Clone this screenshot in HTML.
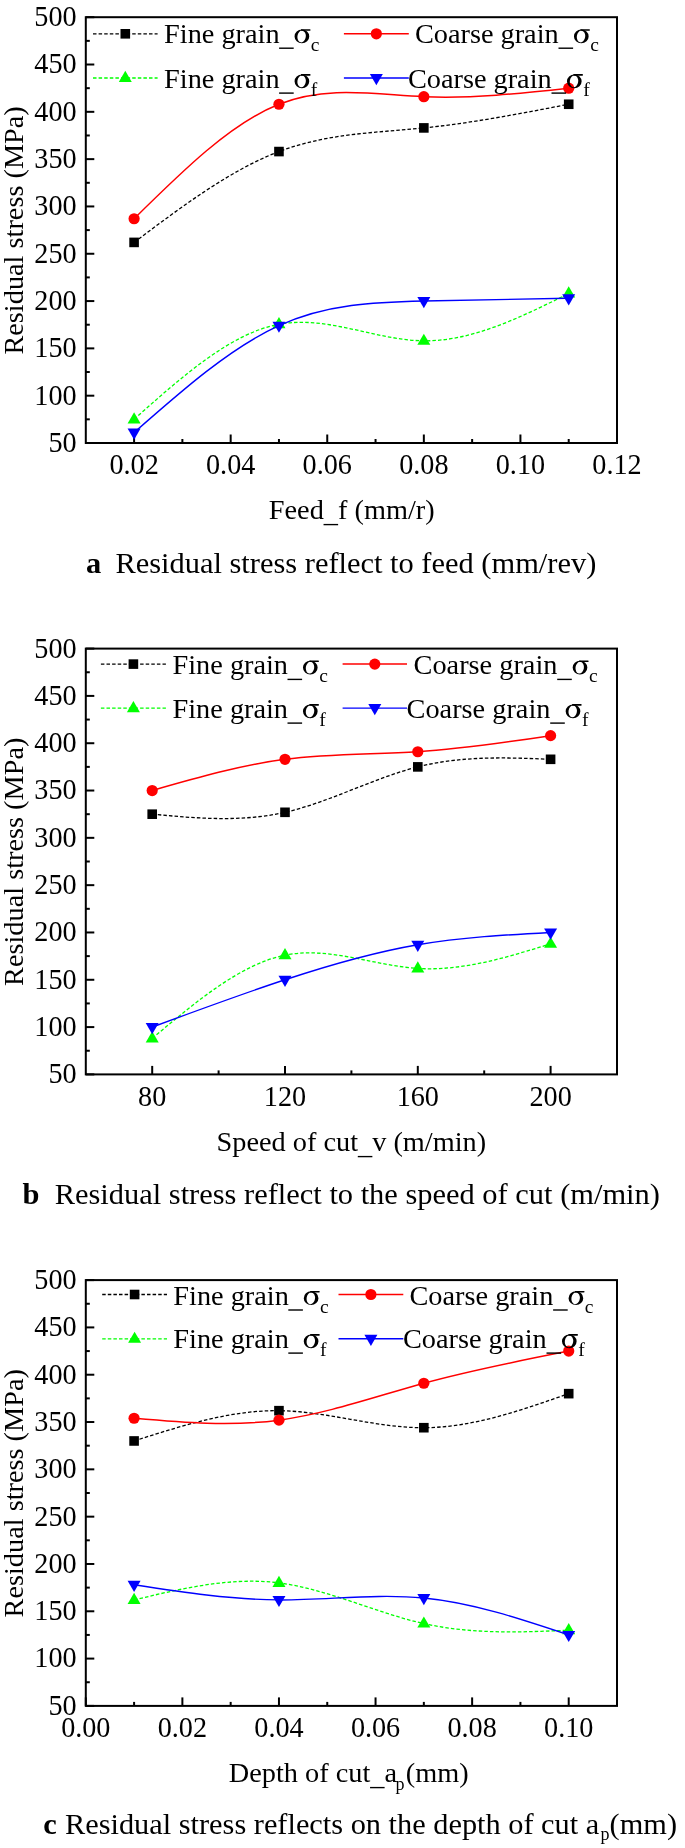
<!DOCTYPE html>
<html><head><meta charset="utf-8"><style>
html,body{margin:0;padding:0;background:#fff;}
svg{display:block;will-change:transform;}
text{font-family:"Liberation Serif", serif;fill:#000;}
</style></head><body>
<svg width="685" height="1848" viewBox="0 0 685 1848">
<rect width="685" height="1848" fill="#fff"/>
<rect x="85.8" y="17.2" width="531.2" height="425.8" fill="none" stroke="#000" stroke-width="2"/>
<line x1="85.8" y1="443.00" x2="94.3" y2="443.00" stroke="#000" stroke-width="2"/>
<text transform="translate(76.60,451.90) scale(1,1.06)" text-anchor="end" font-size="28.2">50</text>
<line x1="85.8" y1="419.34" x2="89.8" y2="419.34" stroke="#000" stroke-width="2"/>
<line x1="85.8" y1="395.69" x2="94.3" y2="395.69" stroke="#000" stroke-width="2"/>
<text transform="translate(76.60,404.59) scale(1,1.06)" text-anchor="end" font-size="28.2">100</text>
<line x1="85.8" y1="372.03" x2="89.8" y2="372.03" stroke="#000" stroke-width="2"/>
<line x1="85.8" y1="348.38" x2="94.3" y2="348.38" stroke="#000" stroke-width="2"/>
<text transform="translate(76.60,357.28) scale(1,1.06)" text-anchor="end" font-size="28.2">150</text>
<line x1="85.8" y1="324.72" x2="89.8" y2="324.72" stroke="#000" stroke-width="2"/>
<line x1="85.8" y1="301.07" x2="94.3" y2="301.07" stroke="#000" stroke-width="2"/>
<text transform="translate(76.60,309.97) scale(1,1.06)" text-anchor="end" font-size="28.2">200</text>
<line x1="85.8" y1="277.41" x2="89.8" y2="277.41" stroke="#000" stroke-width="2"/>
<line x1="85.8" y1="253.76" x2="94.3" y2="253.76" stroke="#000" stroke-width="2"/>
<text transform="translate(76.60,262.66) scale(1,1.06)" text-anchor="end" font-size="28.2">250</text>
<line x1="85.8" y1="230.10" x2="89.8" y2="230.10" stroke="#000" stroke-width="2"/>
<line x1="85.8" y1="206.44" x2="94.3" y2="206.44" stroke="#000" stroke-width="2"/>
<text transform="translate(76.60,215.34) scale(1,1.06)" text-anchor="end" font-size="28.2">300</text>
<line x1="85.8" y1="182.79" x2="89.8" y2="182.79" stroke="#000" stroke-width="2"/>
<line x1="85.8" y1="159.13" x2="94.3" y2="159.13" stroke="#000" stroke-width="2"/>
<text transform="translate(76.60,168.03) scale(1,1.06)" text-anchor="end" font-size="28.2">350</text>
<line x1="85.8" y1="135.48" x2="89.8" y2="135.48" stroke="#000" stroke-width="2"/>
<line x1="85.8" y1="111.82" x2="94.3" y2="111.82" stroke="#000" stroke-width="2"/>
<text transform="translate(76.60,120.72) scale(1,1.06)" text-anchor="end" font-size="28.2">400</text>
<line x1="85.8" y1="88.17" x2="89.8" y2="88.17" stroke="#000" stroke-width="2"/>
<line x1="85.8" y1="64.51" x2="94.3" y2="64.51" stroke="#000" stroke-width="2"/>
<text transform="translate(76.60,73.41) scale(1,1.06)" text-anchor="end" font-size="28.2">450</text>
<line x1="85.8" y1="40.86" x2="89.8" y2="40.86" stroke="#000" stroke-width="2"/>
<line x1="85.8" y1="17.20" x2="94.3" y2="17.20" stroke="#000" stroke-width="2"/>
<text transform="translate(76.60,26.10) scale(1,1.06)" text-anchor="end" font-size="28.2">500</text>
<line x1="134.09" y1="443.0" x2="134.09" y2="434.5" stroke="#000" stroke-width="2"/>
<line x1="230.67" y1="443.0" x2="230.67" y2="434.5" stroke="#000" stroke-width="2"/>
<line x1="327.25" y1="443.0" x2="327.25" y2="434.5" stroke="#000" stroke-width="2"/>
<line x1="423.84" y1="443.0" x2="423.84" y2="434.5" stroke="#000" stroke-width="2"/>
<line x1="520.42" y1="443.0" x2="520.42" y2="434.5" stroke="#000" stroke-width="2"/>
<line x1="617.00" y1="443.0" x2="617.00" y2="434.5" stroke="#000" stroke-width="2"/>
<line x1="182.38" y1="443.0" x2="182.38" y2="439.0" stroke="#000" stroke-width="2"/>
<line x1="278.96" y1="443.0" x2="278.96" y2="439.0" stroke="#000" stroke-width="2"/>
<line x1="375.55" y1="443.0" x2="375.55" y2="439.0" stroke="#000" stroke-width="2"/>
<line x1="472.13" y1="443.0" x2="472.13" y2="439.0" stroke="#000" stroke-width="2"/>
<line x1="568.71" y1="443.0" x2="568.71" y2="439.0" stroke="#000" stroke-width="2"/>
<text transform="translate(134.09,474.40) scale(1,1.06)" text-anchor="middle" font-size="28.2">0.02</text>
<text transform="translate(230.67,474.40) scale(1,1.06)" text-anchor="middle" font-size="28.2">0.04</text>
<text transform="translate(327.25,474.40) scale(1,1.06)" text-anchor="middle" font-size="28.2">0.06</text>
<text transform="translate(423.84,474.40) scale(1,1.06)" text-anchor="middle" font-size="28.2">0.08</text>
<text transform="translate(520.42,474.40) scale(1,1.06)" text-anchor="middle" font-size="28.2">0.10</text>
<text transform="translate(617.00,474.40) scale(1,1.06)" text-anchor="middle" font-size="28.2">0.12</text>
<text transform="translate(23.4,230.40) rotate(-90)" text-anchor="middle" font-size="28.3">Residual stress (MPa)</text>
<text x="268.8" y="519.00" font-size="28.3" xml:space="preserve">Feed<tspan dy="3">_</tspan><tspan dy="-3">f (mm/r)</tspan></text>
<text x="86.0" y="573.10" font-size="30.45" font-weight="bold">a</text><text x="115.4" y="573.10" font-size="30.45">Residual stress reflect to feed (mm/rev)</text>
<path d="M134.09,242.40 C182.38,206.15 230.67,169.90 278.96,151.56 C327.25,133.23 375.55,132.81 423.84,127.91 C472.13,123.01 520.42,113.63 568.71,104.25" fill="none" stroke="#000000" stroke-width="1.3" stroke-dasharray="3.5 2.1"/><rect x="129.29" y="237.60" width="9.6" height="9.6" fill="#000000"/><rect x="274.16" y="146.76" width="9.6" height="9.6" fill="#000000"/><rect x="419.04" y="123.11" width="9.6" height="9.6" fill="#000000"/><rect x="563.91" y="99.45" width="9.6" height="9.6" fill="#000000"/>
<path d="M134.09,218.75 C182.38,171.06 230.67,123.37 278.96,104.25 C327.25,85.14 375.55,94.60 423.84,96.68 C472.13,98.76 520.42,93.47 568.71,88.17" fill="none" stroke="#ff0000" stroke-width="1.5"/><circle cx="134.09" cy="218.75" r="5.6" fill="#ff0000"/><circle cx="278.96" cy="104.25" r="5.6" fill="#ff0000"/><circle cx="423.84" cy="96.68" r="5.6" fill="#ff0000"/><circle cx="568.71" cy="88.17" r="5.6" fill="#ff0000"/>
<path d="M134.09,419.34 C182.38,376.30 230.67,333.26 278.96,324.25 C327.25,315.24 375.55,340.26 423.84,340.81 C472.13,341.35 520.42,317.43 568.71,293.50" fill="none" stroke="#00ff00" stroke-width="1.3" stroke-dasharray="3.5 2.1"/><path d="M127.59,423.38 L140.59,423.38 L134.09,412.18 Z" fill="#00ff00"/><path d="M272.46,328.28 L285.46,328.28 L278.96,317.08 Z" fill="#00ff00"/><path d="M417.34,344.84 L430.34,344.84 L423.84,333.64 Z" fill="#00ff00"/><path d="M562.21,297.53 L575.21,297.53 L568.71,286.33 Z" fill="#00ff00"/>
<path d="M134.09,432.59 C182.38,390.12 230.67,347.64 278.96,325.67 C327.25,303.70 375.55,302.22 423.84,301.07 C472.13,299.91 520.42,299.07 568.71,298.23" fill="none" stroke="#0000ff" stroke-width="1.4"/><path d="M127.59,428.56 L140.59,428.56 L134.09,439.76 Z" fill="#0000ff"/><path d="M272.46,321.64 L285.46,321.64 L278.96,332.84 Z" fill="#0000ff"/><path d="M417.34,297.03 L430.34,297.03 L423.84,308.23 Z" fill="#0000ff"/><path d="M562.21,294.20 L575.21,294.20 L568.71,305.40 Z" fill="#0000ff"/>
<line x1="93.0" y1="33.80" x2="157.6" y2="33.80" stroke="#000000" stroke-width="1.3" stroke-dasharray="3.5 2.1"/>
<rect x="120.50" y="29.00" width="9.6" height="9.6" fill="#000000"/>
<text x="164.10" y="42.80" font-size="28.3">Fine grain</text>
<rect x="279.10" y="47.50" width="14.6" height="1.4" fill="#000"/>
<path d="M294.55,36.40 a7.35,6.9 0 1,0 14.7,0 a7.35,6.9 0 1,0 -14.7,0 Z M297.44,35.92 A4.2,5.9 8 1,0 305.76,37.08 A4.2,5.9 8 1,0 297.44,35.92 Z" fill="#000" fill-rule="evenodd"/><path d="M301.00,29.20 H309.80 a0.8,0.8 0 0 1 0.8,0.8 a0.8,0.8 0 0 1 -0.8,0.8 H301.00 Z" fill="#000"/>
<text x="310.80" y="50.70" font-size="19.5">c</text>
<line x1="343.9" y1="33.80" x2="408.8" y2="33.80" stroke="#ff0000" stroke-width="1.5"/>
<circle cx="376.35" cy="33.80" r="5.6" fill="#ff0000"/>
<text x="414.90" y="42.80" font-size="28.3">Coarse grain</text>
<rect x="558.50" y="47.50" width="14.6" height="1.4" fill="#000"/>
<path d="M573.95,36.40 a7.35,6.9 0 1,0 14.7,0 a7.35,6.9 0 1,0 -14.7,0 Z M576.84,35.92 A4.2,5.9 8 1,0 585.16,37.08 A4.2,5.9 8 1,0 576.84,35.92 Z" fill="#000" fill-rule="evenodd"/><path d="M580.40,29.20 H589.20 a0.8,0.8 0 0 1 0.8,0.8 a0.8,0.8 0 0 1 -0.8,0.8 H580.40 Z" fill="#000"/>
<text x="590.20" y="50.70" font-size="19.5">c</text>
<line x1="93.0" y1="78.00" x2="157.6" y2="78.00" stroke="#00ff00" stroke-width="1.3" stroke-dasharray="3.5 2.1"/>
<path d="M118.80,82.03 L131.80,82.03 L125.30,70.83 Z" fill="#00ff00"/>
<text x="164.10" y="87.70" font-size="28.3">Fine grain</text>
<rect x="279.10" y="92.40" width="14.6" height="1.4" fill="#000"/>
<path d="M294.55,81.30 a7.35,6.9 0 1,0 14.7,0 a7.35,6.9 0 1,0 -14.7,0 Z M297.44,80.82 A4.2,5.9 8 1,0 305.76,81.98 A4.2,5.9 8 1,0 297.44,80.82 Z" fill="#000" fill-rule="evenodd"/><path d="M301.00,74.10 H309.80 a0.8,0.8 0 0 1 0.8,0.8 a0.8,0.8 0 0 1 -0.8,0.8 H301.00 Z" fill="#000"/>
<text x="310.80" y="95.60" font-size="19.5">f</text>
<line x1="343.9" y1="78.00" x2="408.8" y2="78.00" stroke="#0000ff" stroke-width="1.4"/>
<path d="M369.85,73.97 L382.85,73.97 L376.35,85.17 Z" fill="#0000ff"/>
<text x="407.90" y="87.70" font-size="28.3">Coarse grain</text>
<rect x="551.50" y="92.40" width="14.6" height="1.4" fill="#000"/>
<path d="M566.95,81.30 a7.35,6.9 0 1,0 14.7,0 a7.35,6.9 0 1,0 -14.7,0 Z M569.84,80.82 A4.2,5.9 8 1,0 578.16,81.98 A4.2,5.9 8 1,0 569.84,80.82 Z" fill="#000" fill-rule="evenodd"/><path d="M573.40,74.10 H582.20 a0.8,0.8 0 0 1 0.8,0.8 a0.8,0.8 0 0 1 -0.8,0.8 H573.40 Z" fill="#000"/>
<text x="583.20" y="95.60" font-size="19.5">f</text>
<rect x="85.8" y="648.6" width="531.2" height="425.8" fill="none" stroke="#000" stroke-width="2"/>
<line x1="85.8" y1="1074.40" x2="94.3" y2="1074.40" stroke="#000" stroke-width="2"/>
<text transform="translate(76.60,1083.30) scale(1,1.06)" text-anchor="end" font-size="28.2">50</text>
<line x1="85.8" y1="1050.74" x2="89.8" y2="1050.74" stroke="#000" stroke-width="2"/>
<line x1="85.8" y1="1027.09" x2="94.3" y2="1027.09" stroke="#000" stroke-width="2"/>
<text transform="translate(76.60,1035.99) scale(1,1.06)" text-anchor="end" font-size="28.2">100</text>
<line x1="85.8" y1="1003.43" x2="89.8" y2="1003.43" stroke="#000" stroke-width="2"/>
<line x1="85.8" y1="979.78" x2="94.3" y2="979.78" stroke="#000" stroke-width="2"/>
<text transform="translate(76.60,988.68) scale(1,1.06)" text-anchor="end" font-size="28.2">150</text>
<line x1="85.8" y1="956.12" x2="89.8" y2="956.12" stroke="#000" stroke-width="2"/>
<line x1="85.8" y1="932.47" x2="94.3" y2="932.47" stroke="#000" stroke-width="2"/>
<text transform="translate(76.60,941.37) scale(1,1.06)" text-anchor="end" font-size="28.2">200</text>
<line x1="85.8" y1="908.81" x2="89.8" y2="908.81" stroke="#000" stroke-width="2"/>
<line x1="85.8" y1="885.16" x2="94.3" y2="885.16" stroke="#000" stroke-width="2"/>
<text transform="translate(76.60,894.06) scale(1,1.06)" text-anchor="end" font-size="28.2">250</text>
<line x1="85.8" y1="861.50" x2="89.8" y2="861.50" stroke="#000" stroke-width="2"/>
<line x1="85.8" y1="837.84" x2="94.3" y2="837.84" stroke="#000" stroke-width="2"/>
<text transform="translate(76.60,846.74) scale(1,1.06)" text-anchor="end" font-size="28.2">300</text>
<line x1="85.8" y1="814.19" x2="89.8" y2="814.19" stroke="#000" stroke-width="2"/>
<line x1="85.8" y1="790.53" x2="94.3" y2="790.53" stroke="#000" stroke-width="2"/>
<text transform="translate(76.60,799.43) scale(1,1.06)" text-anchor="end" font-size="28.2">350</text>
<line x1="85.8" y1="766.88" x2="89.8" y2="766.88" stroke="#000" stroke-width="2"/>
<line x1="85.8" y1="743.22" x2="94.3" y2="743.22" stroke="#000" stroke-width="2"/>
<text transform="translate(76.60,752.12) scale(1,1.06)" text-anchor="end" font-size="28.2">400</text>
<line x1="85.8" y1="719.57" x2="89.8" y2="719.57" stroke="#000" stroke-width="2"/>
<line x1="85.8" y1="695.91" x2="94.3" y2="695.91" stroke="#000" stroke-width="2"/>
<text transform="translate(76.60,704.81) scale(1,1.06)" text-anchor="end" font-size="28.2">450</text>
<line x1="85.8" y1="672.26" x2="89.8" y2="672.26" stroke="#000" stroke-width="2"/>
<line x1="85.8" y1="648.60" x2="94.3" y2="648.60" stroke="#000" stroke-width="2"/>
<text transform="translate(76.60,657.50) scale(1,1.06)" text-anchor="end" font-size="28.2">500</text>
<line x1="152.20" y1="1074.4" x2="152.20" y2="1065.9" stroke="#000" stroke-width="2"/>
<line x1="285.00" y1="1074.4" x2="285.00" y2="1065.9" stroke="#000" stroke-width="2"/>
<line x1="417.80" y1="1074.4" x2="417.80" y2="1065.9" stroke="#000" stroke-width="2"/>
<line x1="550.60" y1="1074.4" x2="550.60" y2="1065.9" stroke="#000" stroke-width="2"/>
<line x1="218.60" y1="1074.4" x2="218.60" y2="1070.4" stroke="#000" stroke-width="2"/>
<line x1="351.40" y1="1074.4" x2="351.40" y2="1070.4" stroke="#000" stroke-width="2"/>
<line x1="484.20" y1="1074.4" x2="484.20" y2="1070.4" stroke="#000" stroke-width="2"/>
<line x1="617.00" y1="1074.4" x2="617.00" y2="1070.4" stroke="#000" stroke-width="2"/>
<text transform="translate(152.20,1105.80) scale(1,1.06)" text-anchor="middle" font-size="28.2">80</text>
<text transform="translate(285.00,1105.80) scale(1,1.06)" text-anchor="middle" font-size="28.2">120</text>
<text transform="translate(417.80,1105.80) scale(1,1.06)" text-anchor="middle" font-size="28.2">160</text>
<text transform="translate(550.60,1105.80) scale(1,1.06)" text-anchor="middle" font-size="28.2">200</text>
<text transform="translate(23.4,861.80) rotate(-90)" text-anchor="middle" font-size="28.3">Residual stress (MPa)</text>
<text x="216.6" y="1151.40" font-size="28.3" xml:space="preserve">Speed of cut<tspan dy="3">_</tspan><tspan dy="-3">v (m/min)</tspan></text>
<text x="22.6" y="1203.80" font-size="30.45" font-weight="bold">b</text><text x="54.7" y="1203.80" font-size="30.45">Residual stress reflect to the speed of cut (m/min)</text>
<path d="M152.20,814.19 C196.47,818.27 240.73,822.35 285.00,812.30 C329.27,802.25 373.53,778.06 417.80,766.88 C462.07,755.69 506.33,757.50 550.60,759.31" fill="none" stroke="#000000" stroke-width="1.3" stroke-dasharray="3.5 2.1"/><rect x="147.40" y="809.39" width="9.6" height="9.6" fill="#000000"/><rect x="280.20" y="807.50" width="9.6" height="9.6" fill="#000000"/><rect x="413.00" y="762.08" width="9.6" height="9.6" fill="#000000"/><rect x="545.80" y="754.51" width="9.6" height="9.6" fill="#000000"/>
<path d="M152.20,790.53 C196.47,777.83 240.73,765.13 285.00,759.31 C329.27,753.48 373.53,754.53 417.80,751.74 C462.07,748.94 506.33,742.30 550.60,735.65" fill="none" stroke="#ff0000" stroke-width="1.5"/><circle cx="152.20" cy="790.53" r="5.6" fill="#ff0000"/><circle cx="285.00" cy="759.31" r="5.6" fill="#ff0000"/><circle cx="417.80" cy="751.74" r="5.6" fill="#ff0000"/><circle cx="550.60" cy="735.65" r="5.6" fill="#ff0000"/>
<path d="M152.20,1038.44 C196.47,1001.27 240.73,964.09 285.00,955.18 C329.27,946.26 373.53,965.61 417.80,968.42 C462.07,971.24 506.33,957.53 550.60,943.82" fill="none" stroke="#00ff00" stroke-width="1.3" stroke-dasharray="3.5 2.1"/><path d="M145.70,1042.48 L158.70,1042.48 L152.20,1031.28 Z" fill="#00ff00"/><path d="M278.50,959.21 L291.50,959.21 L285.00,948.01 Z" fill="#00ff00"/><path d="M411.30,972.46 L424.30,972.46 L417.80,961.26 Z" fill="#00ff00"/><path d="M544.10,947.85 L557.10,947.85 L550.60,936.65 Z" fill="#00ff00"/>
<path d="M152.20,1027.09 C196.47,1010.73 240.73,994.37 285.00,979.78 C329.27,965.18 373.53,952.36 417.80,944.77 C462.07,937.18 506.33,934.82 550.60,932.47" fill="none" stroke="#0000ff" stroke-width="1.4"/><path d="M145.70,1023.06 L158.70,1023.06 L152.20,1034.26 Z" fill="#0000ff"/><path d="M278.50,975.75 L291.50,975.75 L285.00,986.95 Z" fill="#0000ff"/><path d="M411.30,940.74 L424.30,940.74 L417.80,951.94 Z" fill="#0000ff"/><path d="M544.10,928.43 L557.10,928.43 L550.60,939.63 Z" fill="#0000ff"/>
<line x1="100.9" y1="664.10" x2="165.9" y2="664.10" stroke="#000000" stroke-width="1.3" stroke-dasharray="3.5 2.1"/>
<rect x="128.60" y="659.30" width="9.6" height="9.6" fill="#000000"/>
<text x="172.50" y="674.00" font-size="28.3">Fine grain</text>
<rect x="287.50" y="678.70" width="14.6" height="1.4" fill="#000"/>
<path d="M302.95,667.60 a7.35,6.9 0 1,0 14.7,0 a7.35,6.9 0 1,0 -14.7,0 Z M305.84,667.12 A4.2,5.9 8 1,0 314.16,668.28 A4.2,5.9 8 1,0 305.84,667.12 Z" fill="#000" fill-rule="evenodd"/><path d="M309.40,660.40 H318.20 a0.8,0.8 0 0 1 0.8,0.8 a0.8,0.8 0 0 1 -0.8,0.8 H309.40 Z" fill="#000"/>
<text x="319.20" y="681.90" font-size="19.5">c</text>
<line x1="342.6" y1="664.10" x2="407.0" y2="664.10" stroke="#ff0000" stroke-width="1.5"/>
<circle cx="374.80" cy="664.10" r="5.6" fill="#ff0000"/>
<text x="413.60" y="674.00" font-size="28.3">Coarse grain</text>
<rect x="557.20" y="678.70" width="14.6" height="1.4" fill="#000"/>
<path d="M572.65,667.60 a7.35,6.9 0 1,0 14.7,0 a7.35,6.9 0 1,0 -14.7,0 Z M575.54,667.12 A4.2,5.9 8 1,0 583.86,668.28 A4.2,5.9 8 1,0 575.54,667.12 Z" fill="#000" fill-rule="evenodd"/><path d="M579.10,660.40 H587.90 a0.8,0.8 0 0 1 0.8,0.8 a0.8,0.8 0 0 1 -0.8,0.8 H579.10 Z" fill="#000"/>
<text x="588.90" y="681.90" font-size="19.5">c</text>
<line x1="100.9" y1="708.10" x2="165.9" y2="708.10" stroke="#00ff00" stroke-width="1.3" stroke-dasharray="3.5 2.1"/>
<path d="M126.90,712.13 L139.90,712.13 L133.40,700.93 Z" fill="#00ff00"/>
<text x="172.50" y="717.70" font-size="28.3">Fine grain</text>
<rect x="287.50" y="722.40" width="14.6" height="1.4" fill="#000"/>
<path d="M302.95,711.30 a7.35,6.9 0 1,0 14.7,0 a7.35,6.9 0 1,0 -14.7,0 Z M305.84,710.82 A4.2,5.9 8 1,0 314.16,711.98 A4.2,5.9 8 1,0 305.84,710.82 Z" fill="#000" fill-rule="evenodd"/><path d="M309.40,704.10 H318.20 a0.8,0.8 0 0 1 0.8,0.8 a0.8,0.8 0 0 1 -0.8,0.8 H309.40 Z" fill="#000"/>
<text x="319.20" y="725.60" font-size="19.5">f</text>
<line x1="342.6" y1="708.10" x2="407.0" y2="708.10" stroke="#0000ff" stroke-width="1.4"/>
<path d="M368.30,704.07 L381.30,704.07 L374.80,715.27 Z" fill="#0000ff"/>
<text x="406.60" y="717.70" font-size="28.3">Coarse grain</text>
<rect x="550.20" y="722.40" width="14.6" height="1.4" fill="#000"/>
<path d="M565.65,711.30 a7.35,6.9 0 1,0 14.7,0 a7.35,6.9 0 1,0 -14.7,0 Z M568.54,710.82 A4.2,5.9 8 1,0 576.86,711.98 A4.2,5.9 8 1,0 568.54,710.82 Z" fill="#000" fill-rule="evenodd"/><path d="M572.10,704.10 H580.90 a0.8,0.8 0 0 1 0.8,0.8 a0.8,0.8 0 0 1 -0.8,0.8 H572.10 Z" fill="#000"/>
<text x="581.90" y="725.60" font-size="19.5">f</text>
<rect x="85.8" y="1280.1" width="531.2" height="425.8" fill="none" stroke="#000" stroke-width="2"/>
<line x1="85.8" y1="1705.90" x2="94.3" y2="1705.90" stroke="#000" stroke-width="2"/>
<text transform="translate(76.60,1714.80) scale(1,1.06)" text-anchor="end" font-size="28.2">50</text>
<line x1="85.8" y1="1682.24" x2="89.8" y2="1682.24" stroke="#000" stroke-width="2"/>
<line x1="85.8" y1="1658.59" x2="94.3" y2="1658.59" stroke="#000" stroke-width="2"/>
<text transform="translate(76.60,1667.49) scale(1,1.06)" text-anchor="end" font-size="28.2">100</text>
<line x1="85.8" y1="1634.93" x2="89.8" y2="1634.93" stroke="#000" stroke-width="2"/>
<line x1="85.8" y1="1611.28" x2="94.3" y2="1611.28" stroke="#000" stroke-width="2"/>
<text transform="translate(76.60,1620.18) scale(1,1.06)" text-anchor="end" font-size="28.2">150</text>
<line x1="85.8" y1="1587.62" x2="89.8" y2="1587.62" stroke="#000" stroke-width="2"/>
<line x1="85.8" y1="1563.97" x2="94.3" y2="1563.97" stroke="#000" stroke-width="2"/>
<text transform="translate(76.60,1572.87) scale(1,1.06)" text-anchor="end" font-size="28.2">200</text>
<line x1="85.8" y1="1540.31" x2="89.8" y2="1540.31" stroke="#000" stroke-width="2"/>
<line x1="85.8" y1="1516.66" x2="94.3" y2="1516.66" stroke="#000" stroke-width="2"/>
<text transform="translate(76.60,1525.56) scale(1,1.06)" text-anchor="end" font-size="28.2">250</text>
<line x1="85.8" y1="1493.00" x2="89.8" y2="1493.00" stroke="#000" stroke-width="2"/>
<line x1="85.8" y1="1469.34" x2="94.3" y2="1469.34" stroke="#000" stroke-width="2"/>
<text transform="translate(76.60,1478.24) scale(1,1.06)" text-anchor="end" font-size="28.2">300</text>
<line x1="85.8" y1="1445.69" x2="89.8" y2="1445.69" stroke="#000" stroke-width="2"/>
<line x1="85.8" y1="1422.03" x2="94.3" y2="1422.03" stroke="#000" stroke-width="2"/>
<text transform="translate(76.60,1430.93) scale(1,1.06)" text-anchor="end" font-size="28.2">350</text>
<line x1="85.8" y1="1398.38" x2="89.8" y2="1398.38" stroke="#000" stroke-width="2"/>
<line x1="85.8" y1="1374.72" x2="94.3" y2="1374.72" stroke="#000" stroke-width="2"/>
<text transform="translate(76.60,1383.62) scale(1,1.06)" text-anchor="end" font-size="28.2">400</text>
<line x1="85.8" y1="1351.07" x2="89.8" y2="1351.07" stroke="#000" stroke-width="2"/>
<line x1="85.8" y1="1327.41" x2="94.3" y2="1327.41" stroke="#000" stroke-width="2"/>
<text transform="translate(76.60,1336.31) scale(1,1.06)" text-anchor="end" font-size="28.2">450</text>
<line x1="85.8" y1="1303.76" x2="89.8" y2="1303.76" stroke="#000" stroke-width="2"/>
<line x1="85.8" y1="1280.10" x2="94.3" y2="1280.10" stroke="#000" stroke-width="2"/>
<text transform="translate(76.60,1289.00) scale(1,1.06)" text-anchor="end" font-size="28.2">500</text>
<line x1="85.80" y1="1705.8999999999999" x2="85.80" y2="1697.3999999999999" stroke="#000" stroke-width="2"/>
<line x1="182.38" y1="1705.8999999999999" x2="182.38" y2="1697.3999999999999" stroke="#000" stroke-width="2"/>
<line x1="278.96" y1="1705.8999999999999" x2="278.96" y2="1697.3999999999999" stroke="#000" stroke-width="2"/>
<line x1="375.55" y1="1705.8999999999999" x2="375.55" y2="1697.3999999999999" stroke="#000" stroke-width="2"/>
<line x1="472.13" y1="1705.8999999999999" x2="472.13" y2="1697.3999999999999" stroke="#000" stroke-width="2"/>
<line x1="568.71" y1="1705.8999999999999" x2="568.71" y2="1697.3999999999999" stroke="#000" stroke-width="2"/>
<line x1="134.09" y1="1705.8999999999999" x2="134.09" y2="1701.8999999999999" stroke="#000" stroke-width="2"/>
<line x1="230.67" y1="1705.8999999999999" x2="230.67" y2="1701.8999999999999" stroke="#000" stroke-width="2"/>
<line x1="327.25" y1="1705.8999999999999" x2="327.25" y2="1701.8999999999999" stroke="#000" stroke-width="2"/>
<line x1="423.84" y1="1705.8999999999999" x2="423.84" y2="1701.8999999999999" stroke="#000" stroke-width="2"/>
<line x1="520.42" y1="1705.8999999999999" x2="520.42" y2="1701.8999999999999" stroke="#000" stroke-width="2"/>
<line x1="617.00" y1="1705.8999999999999" x2="617.00" y2="1701.8999999999999" stroke="#000" stroke-width="2"/>
<text transform="translate(85.80,1737.30) scale(1,1.06)" text-anchor="middle" font-size="28.2">0.00</text>
<text transform="translate(182.38,1737.30) scale(1,1.06)" text-anchor="middle" font-size="28.2">0.02</text>
<text transform="translate(278.96,1737.30) scale(1,1.06)" text-anchor="middle" font-size="28.2">0.04</text>
<text transform="translate(375.55,1737.30) scale(1,1.06)" text-anchor="middle" font-size="28.2">0.06</text>
<text transform="translate(472.13,1737.30) scale(1,1.06)" text-anchor="middle" font-size="28.2">0.08</text>
<text transform="translate(568.71,1737.30) scale(1,1.06)" text-anchor="middle" font-size="28.2">0.10</text>
<text transform="translate(23.4,1493.30) rotate(-90)" text-anchor="middle" font-size="28.3">Residual stress (MPa)</text>
<text x="228.8" y="1782.00" font-size="28.3" xml:space="preserve">Depth of cut<tspan dy="3">_</tspan><tspan dy="-3">a</tspan></text><text x="395.4" y="1789.70" font-size="18">p</text><text x="405.8" y="1782.00" font-size="28.3">(mm)</text>
<text x="43.2" y="1834.40" font-size="30.35" font-weight="bold">c</text><text x="65.0" y="1834.40" font-size="30.35">Residual stress reflects on the depth of cut a</text><text x="600.4" y="1840.10" font-size="18">p</text><text x="609.6" y="1834.40" font-size="30.35">(mm)</text>
<path d="M134.09,1440.96 C182.38,1425.52 230.67,1410.09 278.96,1410.68 C327.25,1411.27 375.55,1427.88 423.84,1427.71 C472.13,1427.54 520.42,1410.59 568.71,1393.65" fill="none" stroke="#000000" stroke-width="1.3" stroke-dasharray="3.5 2.1"/><rect x="129.29" y="1436.16" width="9.6" height="9.6" fill="#000000"/><rect x="274.16" y="1405.88" width="9.6" height="9.6" fill="#000000"/><rect x="419.04" y="1422.91" width="9.6" height="9.6" fill="#000000"/><rect x="563.91" y="1388.85" width="9.6" height="9.6" fill="#000000"/>
<path d="M134.09,1418.25 C182.38,1422.43 230.67,1426.62 278.96,1420.14 C327.25,1413.66 375.55,1396.53 423.84,1383.24 C472.13,1369.95 520.42,1360.51 568.71,1351.07" fill="none" stroke="#ff0000" stroke-width="1.5"/><circle cx="134.09" cy="1418.25" r="5.6" fill="#ff0000"/><circle cx="278.96" cy="1420.14" r="5.6" fill="#ff0000"/><circle cx="423.84" cy="1383.24" r="5.6" fill="#ff0000"/><circle cx="568.71" cy="1351.07" r="5.6" fill="#ff0000"/>
<path d="M134.09,1599.92 C182.38,1588.36 230.67,1576.79 278.96,1582.89 C327.25,1588.99 375.55,1612.75 423.84,1623.58 C472.13,1634.41 520.42,1632.30 568.71,1630.20" fill="none" stroke="#00ff00" stroke-width="1.3" stroke-dasharray="3.5 2.1"/><path d="M127.59,1603.96 L140.59,1603.96 L134.09,1592.76 Z" fill="#00ff00"/><path d="M272.46,1586.92 L285.46,1586.92 L278.96,1575.72 Z" fill="#00ff00"/><path d="M417.34,1627.61 L430.34,1627.61 L423.84,1616.41 Z" fill="#00ff00"/><path d="M562.21,1634.23 L575.21,1634.23 L568.71,1623.03 Z" fill="#00ff00"/>
<path d="M134.09,1584.78 C182.38,1592.21 230.67,1599.63 278.96,1599.92 C327.25,1600.22 375.55,1593.38 423.84,1598.03 C472.13,1602.68 520.42,1618.81 568.71,1634.93" fill="none" stroke="#0000ff" stroke-width="1.4"/><path d="M127.59,1580.75 L140.59,1580.75 L134.09,1591.95 Z" fill="#0000ff"/><path d="M272.46,1595.89 L285.46,1595.89 L278.96,1607.09 Z" fill="#0000ff"/><path d="M417.34,1594.00 L430.34,1594.00 L423.84,1605.20 Z" fill="#0000ff"/><path d="M562.21,1630.90 L575.21,1630.90 L568.71,1642.10 Z" fill="#0000ff"/>
<line x1="102.2" y1="1294.50" x2="167.0" y2="1294.50" stroke="#000000" stroke-width="1.3" stroke-dasharray="3.5 2.1"/>
<rect x="129.80" y="1289.70" width="9.6" height="9.6" fill="#000000"/>
<text x="173.30" y="1304.60" font-size="28.3">Fine grain</text>
<rect x="288.30" y="1309.30" width="14.6" height="1.4" fill="#000"/>
<path d="M303.75,1298.20 a7.35,6.9 0 1,0 14.7,0 a7.35,6.9 0 1,0 -14.7,0 Z M306.64,1297.72 A4.2,5.9 8 1,0 314.96,1298.88 A4.2,5.9 8 1,0 306.64,1297.72 Z" fill="#000" fill-rule="evenodd"/><path d="M310.20,1291.00 H319.00 a0.8,0.8 0 0 1 0.8,0.8 a0.8,0.8 0 0 1 -0.8,0.8 H310.20 Z" fill="#000"/>
<text x="320.00" y="1312.50" font-size="19.5">c</text>
<line x1="338.5" y1="1294.50" x2="403.3" y2="1294.50" stroke="#ff0000" stroke-width="1.5"/>
<circle cx="370.90" cy="1294.50" r="5.6" fill="#ff0000"/>
<text x="409.50" y="1304.60" font-size="28.3">Coarse grain</text>
<rect x="553.10" y="1309.30" width="14.6" height="1.4" fill="#000"/>
<path d="M568.55,1298.20 a7.35,6.9 0 1,0 14.7,0 a7.35,6.9 0 1,0 -14.7,0 Z M571.44,1297.72 A4.2,5.9 8 1,0 579.76,1298.88 A4.2,5.9 8 1,0 571.44,1297.72 Z" fill="#000" fill-rule="evenodd"/><path d="M575.00,1291.00 H583.80 a0.8,0.8 0 0 1 0.8,0.8 a0.8,0.8 0 0 1 -0.8,0.8 H575.00 Z" fill="#000"/>
<text x="584.80" y="1312.50" font-size="19.5">c</text>
<line x1="102.2" y1="1338.80" x2="167.0" y2="1338.80" stroke="#00ff00" stroke-width="1.3" stroke-dasharray="3.5 2.1"/>
<path d="M128.10,1342.83 L141.10,1342.83 L134.60,1331.63 Z" fill="#00ff00"/>
<text x="173.30" y="1347.70" font-size="28.3">Fine grain</text>
<rect x="288.30" y="1352.40" width="14.6" height="1.4" fill="#000"/>
<path d="M303.75,1341.30 a7.35,6.9 0 1,0 14.7,0 a7.35,6.9 0 1,0 -14.7,0 Z M306.64,1340.82 A4.2,5.9 8 1,0 314.96,1341.98 A4.2,5.9 8 1,0 306.64,1340.82 Z" fill="#000" fill-rule="evenodd"/><path d="M310.20,1334.10 H319.00 a0.8,0.8 0 0 1 0.8,0.8 a0.8,0.8 0 0 1 -0.8,0.8 H310.20 Z" fill="#000"/>
<text x="320.00" y="1355.60" font-size="19.5">f</text>
<line x1="338.5" y1="1338.80" x2="403.3" y2="1338.80" stroke="#0000ff" stroke-width="1.4"/>
<path d="M364.40,1334.77 L377.40,1334.77 L370.90,1345.97 Z" fill="#0000ff"/>
<text x="402.90" y="1347.70" font-size="28.3">Coarse grain</text>
<rect x="546.50" y="1352.40" width="14.6" height="1.4" fill="#000"/>
<path d="M561.95,1341.30 a7.35,6.9 0 1,0 14.7,0 a7.35,6.9 0 1,0 -14.7,0 Z M564.84,1340.82 A4.2,5.9 8 1,0 573.16,1341.98 A4.2,5.9 8 1,0 564.84,1340.82 Z" fill="#000" fill-rule="evenodd"/><path d="M568.40,1334.10 H577.20 a0.8,0.8 0 0 1 0.8,0.8 a0.8,0.8 0 0 1 -0.8,0.8 H568.40 Z" fill="#000"/>
<text x="578.20" y="1355.60" font-size="19.5">f</text>
</svg>
</body></html>
